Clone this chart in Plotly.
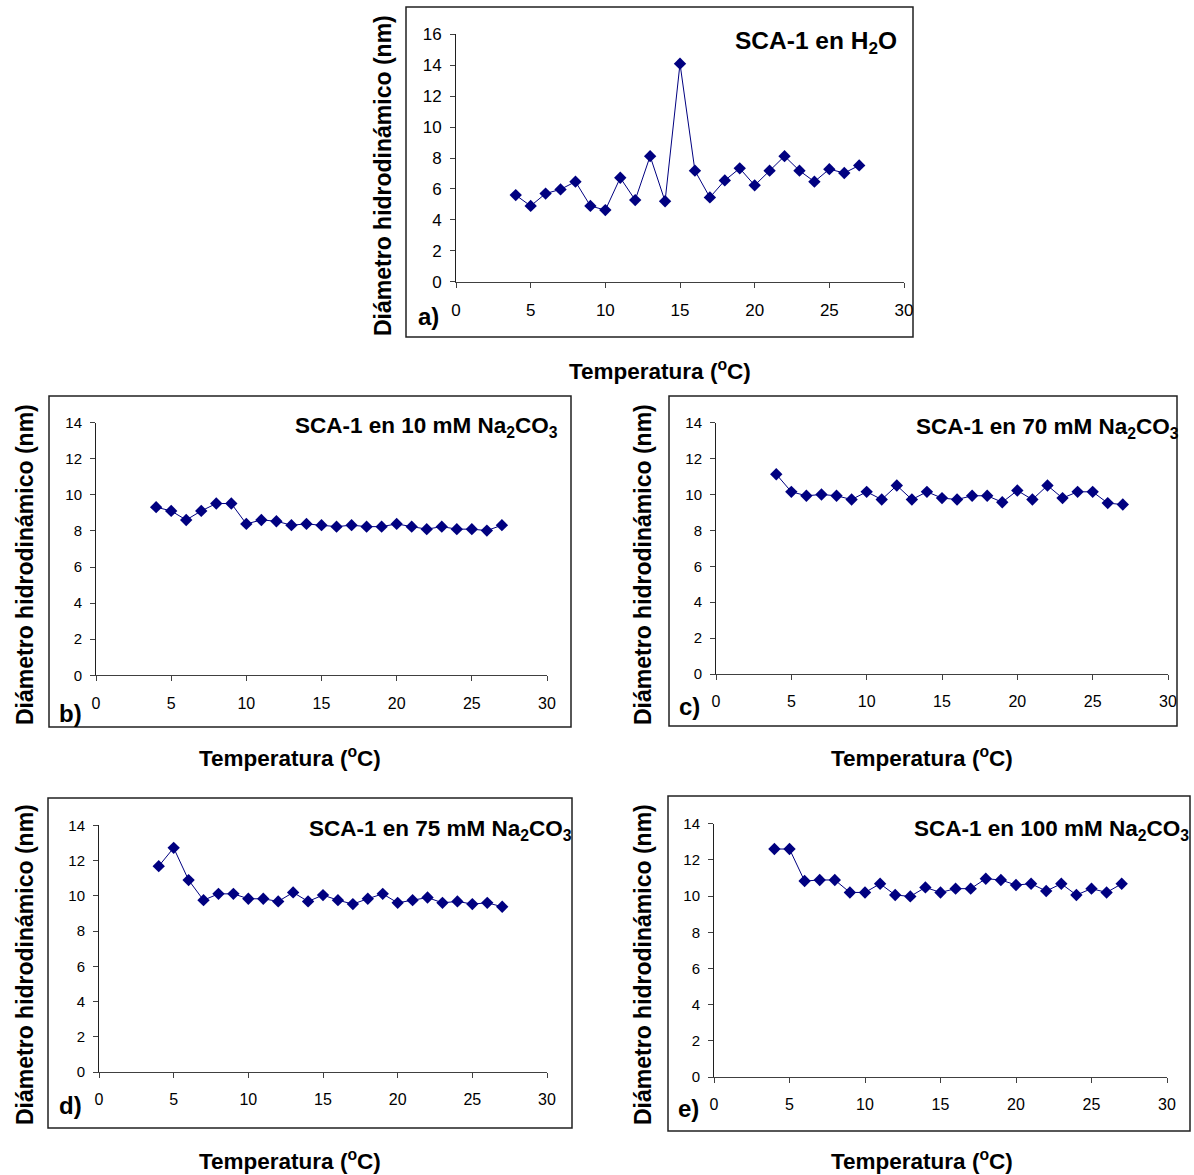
import plotly.graph_objects as go

W, H = 1194, 1175

temps = list(range(4, 28))

h2o = [5.6, 4.9, 5.7, 5.97, 6.47, 4.9, 4.63, 6.72, 5.28, 8.12, 5.2, 14.1,
       7.18, 5.45, 6.55, 7.33, 6.23, 7.18, 8.12, 7.18, 6.47, 7.28, 7.03, 7.52]
na10 = [9.32, 9.11, 8.61, 9.11, 9.52, 9.52, 8.39, 8.61, 8.54, 8.32, 8.39, 8.32,
        8.24, 8.32, 8.24, 8.24, 8.39, 8.24, 8.1, 8.24, 8.1, 8.1, 8.02, 8.32]
na70 = [11.13, 10.15, 9.93, 10.0, 9.93, 9.72, 10.15, 9.72, 10.5, 9.72, 10.15, 9.8,
        9.72, 9.93, 9.93, 9.57, 10.22, 9.72, 10.5, 9.8, 10.15, 10.15, 9.52, 9.44]
na75 = [11.68, 12.72, 10.89, 9.75, 10.11, 10.11, 9.83, 9.83, 9.68, 10.19, 9.68, 10.04,
        9.75, 9.53, 9.83, 10.11, 9.6, 9.75, 9.9, 9.6, 9.68, 9.53, 9.6, 9.38]
na100 = [12.6, 12.6, 10.83, 10.89, 10.89, 10.2, 10.2, 10.68, 10.06, 9.98, 10.48, 10.2,
         10.41, 10.41, 10.96, 10.89, 10.61, 10.68, 10.28, 10.68, 10.06, 10.41, 10.2, 10.68]

titles = ["SCA-1 en H<sub>2</sub>O",
          "SCA-1 en 10 mM Na<sub>2</sub>CO<sub>3</sub>",
          "SCA-1 en 70 mM Na<sub>2</sub>CO<sub>3</sub>",
          "SCA-1 en 75 mM Na<sub>2</sub>CO<sub>3</sub>",
          "SCA-1 en 100 mM Na<sub>2</sub>CO<sub>3</sub>"]
letters = ["a)", "b)", "c)", "d)", "e)"]
series = [h2o, na10, na70, na75, na100]
ymax = [16, 14, 14, 14, 14]
x_ticks = [0, 5, 10, 15, 20, 25, 30]
ytitle = "Diámetro hidrodinámico (nm)"
xtitle = "Temperatura (<sup>o</sup>C)"

# pixel geometry (layout only)
plot_px = [  # x0, x1, ytop, ybottom
    (456, 904, 34.3, 281.7),
    (96, 547, 422.7, 675.3),
    (716, 1168, 422.7, 674),
    (99, 547, 825.3, 1072),
    (714, 1167, 823.7, 1077),
]
frame_px = [
    (406, 7, 913, 337),
    (49, 396, 571, 727),
    (669, 396, 1177, 726),
    (48, 798, 572, 1128),
    (668, 796, 1190, 1131),
]
title_px = [(733, 42, 24.5), (293, 427, 22.5), (914, 428, 22.5), (307, 830, 22.5), (912, 830, 22.5)]
letter_px = [(428, 317), (70, 713), (690, 706), (70, 1105), (688, 1108)]
ytitle_px = [(383, 176), (25, 565), (643, 565), (25, 965), (643, 965)]
xtitle_px = [(660, 370), (290, 757), (922, 757), (290, 1160), (922, 1160)]

def fx(px):
    return px / W

def fy(py):
    return 1 - py / H

FONT = "Liberation Sans, Arial, sans-serif"
NAVY = "#000080"

fig = go.Figure()
layout = dict(width=W, height=H,
              margin=dict(l=0, r=0, t=0, b=0, pad=0, autoexpand=False),
              paper_bgcolor="white", plot_bgcolor="white", showlegend=False,
              font=dict(family=FONT, color="black"))
shapes = []
annotations = []

for i in range(5):
    n = "" if i == 0 else str(i + 1)
    fig.add_trace(go.Scatter(
        x=temps, y=series[i], mode="lines+markers",
        line=dict(color=NAVY, width=1),
        marker=dict(symbol="diamond", size=9.5, color=NAVY),
        xaxis="x" + n, yaxis="y" + n, hoverinfo="x+y"))
    x0, x1, yt, yb = plot_px[i]
    tick_fs_x = 17 if i == 0 else 16
    tick_fs_y = 17 if i == 0 else 15
    layout["xaxis" + n] = dict(
        domain=[fx(x0), fx(x1)], range=[0, 30], tickvals=x_ticks,
        showline=True, linecolor="#404040", linewidth=1, ticks="outside",
        ticklen=5, tickcolor="#404040", showgrid=False, zeroline=False,
        tickfont=dict(size=tick_fs_x, family=FONT, color="black"),
        ticklabelstandoff=8, anchor="y" + n, fixedrange=True, automargin=False)
    layout["yaxis" + n] = dict(
        domain=[fy(yb), fy(yt)], range=[0, ymax[i]], dtick=2,
        showline=True, linecolor="#202020", linewidth=1, ticks="outside",
        ticklen=5, tickcolor="#404040", showgrid=False, zeroline=False,
        tickfont=dict(size=tick_fs_y, family=FONT, color="black"),
        ticklabelstandoff=5, anchor="x" + n, fixedrange=True, automargin=False)
    fx0, fy0, fx1, fy1 = frame_px[i]
    shapes.append(dict(type="rect", xref="paper", yref="paper",
                       x0=fx(fx0), x1=fx(fx1), y0=fy(fy1), y1=fy(fy0),
                       line=dict(color="#202020", width=1.5), layer="below"))
    tx, ty, tfs = title_px[i]
    annotations.append(dict(text="<b>" + titles[i] + "</b>", xref="paper", yref="paper",
                            x=fx(tx), y=fy(ty), xanchor="left", yanchor="middle",
                            showarrow=False, font=dict(size=tfs, family=FONT, color="black")))
    lx, ly = letter_px[i]
    annotations.append(dict(text="<b>" + letters[i] + "</b>", xref="paper", yref="paper",
                            x=fx(lx), y=fy(ly), xanchor="center", yanchor="middle",
                            showarrow=False, font=dict(size=24, family=FONT, color="black")))
    yx, yy = ytitle_px[i]
    annotations.append(dict(text="<b>" + ytitle + "</b>", xref="paper", yref="paper",
                            x=fx(yx), y=fy(yy), xanchor="center", yanchor="middle",
                            textangle=-90, showarrow=False,
                            font=dict(size=23, family=FONT, color="black")))
    xx, xy = xtitle_px[i]
    annotations.append(dict(text="<b>" + xtitle + "</b>", xref="paper", yref="paper",
                            x=fx(xx), y=fy(xy), xanchor="center", yanchor="middle",
                            showarrow=False, font=dict(size=22.5, family=FONT, color="black")))

layout["shapes"] = shapes
layout["annotations"] = annotations
fig.update_layout(**layout)
fig.write_html(
    "out.html",
    config={"displayModeBar": False},
    post_script="document.body.style.margin='0';document.body.style.overflow='hidden';"
                "document.documentElement.style.overflow='hidden';")
